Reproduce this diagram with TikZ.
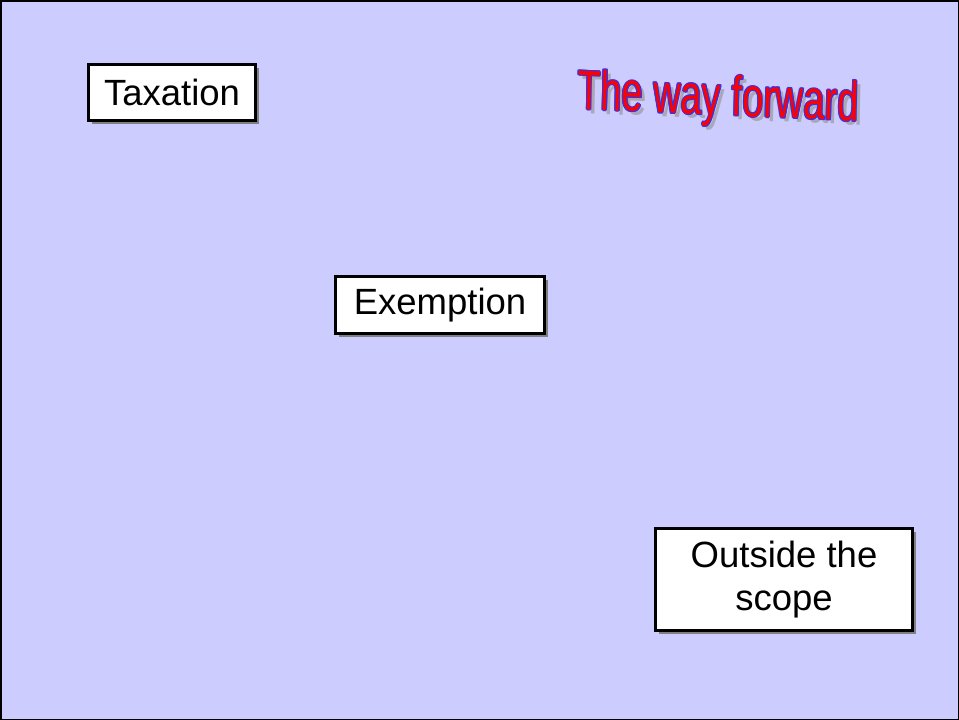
\documentclass[tikz,border=0pt]{standalone}
\usepackage{fontspec}
\setmainfont{Liberation Sans}
\usetikzlibrary{shadows}
\definecolor{bg}{HTML}{CCCCFF}
\definecolor{waOutline}{HTML}{3333EE}
\definecolor{waFill}{HTML}{FF0000}
\definecolor{waShadow}{HTML}{A8A8B8}
\begin{document}
\begin{tikzpicture}[x=1pt,y=-1pt,
  termbox/.style={draw=black, line width=3pt, fill=white, inner sep=0pt,
    font=\fontsize{36.5}{43}\selectfont, align=center,
    drop shadow={shadow xshift=3.5pt, shadow yshift=-3.5pt, fill=black!50, opacity=1}},
  wa/.style={font=\fontsize{56}{56}\selectfont, xscale=0.68, rotate=-1.7, inner sep=0pt, anchor=base west}
]
\useasboundingbox (0,0) rectangle (959,720);
\fill[bg] (0,0) rectangle (959,720);
\draw[black, line width=1.5pt] (0.75,0.75) rectangle (958.25,719.25);

\node[termbox, minimum width=167pt, minimum height=56pt] (tax) at (172,92.5) {Taxation};
\node[termbox, minimum width=209pt, minimum height=57pt] (exe) at (440,305) {Exemption};
\node[termbox, minimum width=257pt, minimum height=102pt] (out) at (784,579.5) {Outside the\\scope};

% WordArt title: shadow, blue outline, red fill
\node[wa, text=waShadow] (wsh) at (581,113) {The way forward};
\foreach \dx/\dy [count=\i] in {-1/0,1/0,0/-1,0/1,-0.7/-0.7,0.7/0.7,-0.7/0.7,0.7/-0.7}
  \node[wa, text=waOutline] (wo\i) at (577+\dx,109+\dy) {The way forward};
\node[wa, text=waFill] (wtitle) at (577,109) {The way forward};
\end{tikzpicture}
\end{document}
